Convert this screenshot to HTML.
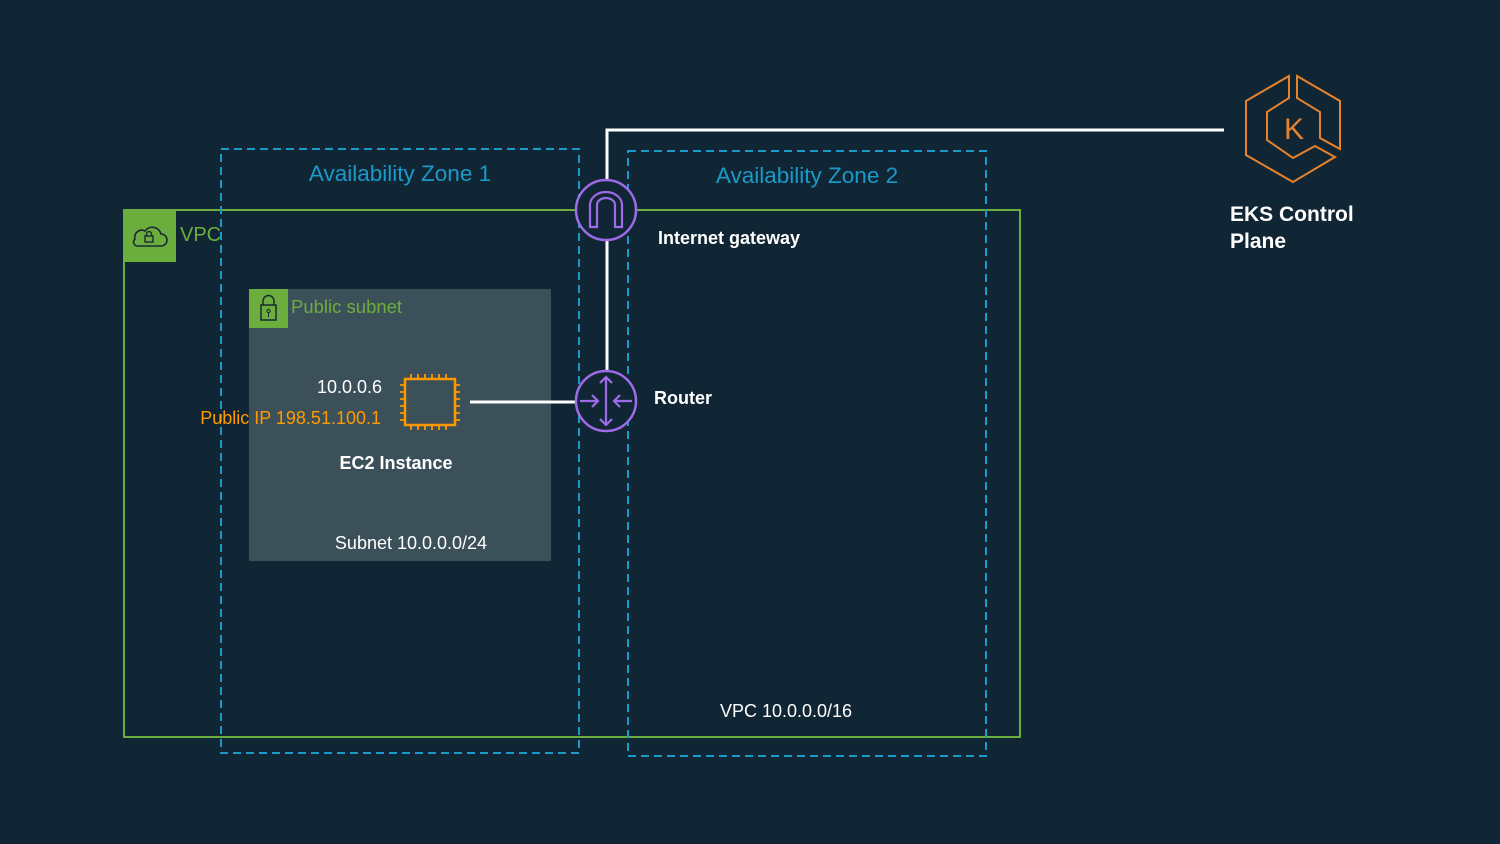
<!DOCTYPE html>
<html><head><meta charset="utf-8"><style>
html,body{margin:0;padding:0;background:#112635;}
svg{display:block}
text{font-family:"Liberation Sans",sans-serif;}
</style></head><body>
<svg width="1500" height="844" viewBox="0 0 1500 844" xmlns="http://www.w3.org/2000/svg">
<rect width="1500" height="844" fill="#112635"/>
<!-- VPC -->
<rect x="124" y="210" width="896" height="527" fill="none" stroke="#6cae3e" stroke-width="2"/>
<rect x="124" y="210" width="52" height="52" fill="#6cae3e"/>
<path d="M137 246 h24 a6 6 0 0 0 0-12 a9 9 0 0 0-16-3 a7 7 0 0 0-10 8 a4 4 0 0 0 2 7z" fill="none" stroke="#1a2a33" stroke-width="1.6"/>
<rect x="145" y="236" width="8" height="6" fill="none" stroke="#1a2a33" stroke-width="1.4"/>
<path d="M146.5 236 v-2 a2.5 2.5 0 0 1 5 0 v2" fill="none" stroke="#1a2a33" stroke-width="1.4"/>
<text x="180" y="241" font-size="20" fill="#6cae3e">VPC</text>
<!-- Subnet -->
<rect x="249" y="289" width="302" height="272" fill="#3b5059"/>
<rect x="249" y="289" width="39" height="39" fill="#6cae3e"/>
<rect x="261" y="305" width="15" height="15" fill="none" stroke="#1a2a33" stroke-width="1.5"/>
<path d="M263 305 v-4 a5.5 5.5 0 0 1 11 0 v4" fill="none" stroke="#1a2a33" stroke-width="1.5"/>
<circle cx="268.5" cy="311" r="1.6" fill="none" stroke="#1a2a33"/><line x1="268.5" y1="313" x2="268.5" y2="317" stroke="#1a2a33"/>
<text x="291" y="313" font-size="18.5" fill="#6cae3e">Public subnet</text>
<text x="411" y="549" font-size="18" fill="#fff" text-anchor="middle">Subnet 10.0.0.0/24</text>
<!-- AZs -->
<rect x="221" y="149" width="358" height="604" fill="none" stroke="#1a9ac9" stroke-width="2" stroke-dasharray="8,5"/>
<rect x="628" y="151" width="358" height="605" fill="none" stroke="#1a9ac9" stroke-width="2" stroke-dasharray="8,5"/>
<text x="400" y="181" font-size="22.5" fill="#1a9ac9" text-anchor="middle">Availability Zone 1</text>
<text x="807" y="183" font-size="22.5" fill="#1a9ac9" text-anchor="middle">Availability Zone 2</text>
<!-- lines -->
<polyline points="607,179 607,130 1224,130" fill="none" stroke="#fff" stroke-width="3"/>
<line x1="607" y1="241" x2="607" y2="370" stroke="#fff" stroke-width="3"/>
<line x1="470" y1="402" x2="575" y2="402" stroke="#fff" stroke-width="3"/>
<!-- IGW -->
<circle cx="606" cy="210" r="30" fill="#112635" stroke="#9d6be8" stroke-width="2.5"/>
<path d="M590 227 v-22 a16 13 0 0 1 32 0 v22 h-7 v-22 a9 7 0 0 0-18 0 v22z" fill="none" stroke="#9d6be8" stroke-width="2.2"/>
<text x="658" y="244" font-size="18" font-weight="bold" fill="#fff">Internet gateway</text>
<!-- Router -->
<circle cx="606" cy="401" r="30" fill="#112635" stroke="#9d6be8" stroke-width="2.5"/>
<g stroke="#9d6be8" stroke-width="2.2" fill="none">
<line x1="606" y1="377" x2="606" y2="425"/>
<polyline points="600,383 606,377 612,383"/><polyline points="600,419 606,425 612,419"/>
<line x1="580" y1="401" x2="598" y2="401"/><polyline points="592,395 598,401 592,407"/>
<line x1="632" y1="401" x2="614" y2="401"/><polyline points="620,395 614,401 620,407"/>
</g>
<text x="654" y="404" font-size="18" font-weight="bold" fill="#fff">Router</text>
<!-- EC2 -->
<rect x="405" y="379" width="50" height="46" fill="none" stroke="#f90" stroke-width="2.5"/>
<g stroke="#f90" stroke-width="1.8">
<path d="M411 379v-5M418 379v-5M425 379v-5M432 379v-5M439 379v-5M446 379v-5M411 425v5M418 425v5M425 425v5M432 425v5M439 425v5M446 425v5"/>
<path d="M405 385h-5M405 392h-5M405 399h-5M405 406h-5M405 413h-5M405 420h-5M455 385h5M455 392h5M455 399h5M455 406h5M455 413h5M455 420h5"/>
</g>
<text x="382" y="393" font-size="18" fill="#fff" text-anchor="end">10.0.0.6</text>
<text x="381" y="424" font-size="18" fill="#f90" text-anchor="end">Public IP 198.51.100.1</text>
<text x="396" y="469" font-size="18" font-weight="bold" fill="#fff" text-anchor="middle">EC2 Instance</text>
<text x="786" y="717" font-size="18" fill="#fff" text-anchor="middle">VPC 10.0.0.0/16</text>
<!-- EKS -->
<g fill="none" stroke="#e8822b" stroke-width="2">
<polygon points="1246,101 1289,76 1289,98 1267,112 1267,140 1293,158 1315,146 1335,157 1293,182 1246,155"/>
<polygon points="1297,76 1340,101 1340,149 1320,138 1320,112 1297,98"/>
</g>
<text x="1294" y="139" font-size="30" fill="#e8822b" text-anchor="middle">K</text>
<text x="1230" y="221" font-size="21" font-weight="bold" fill="#fff">EKS Control</text>
<text x="1230" y="248" font-size="21" font-weight="bold" fill="#fff">Plane</text>
</svg>
</body></html>
